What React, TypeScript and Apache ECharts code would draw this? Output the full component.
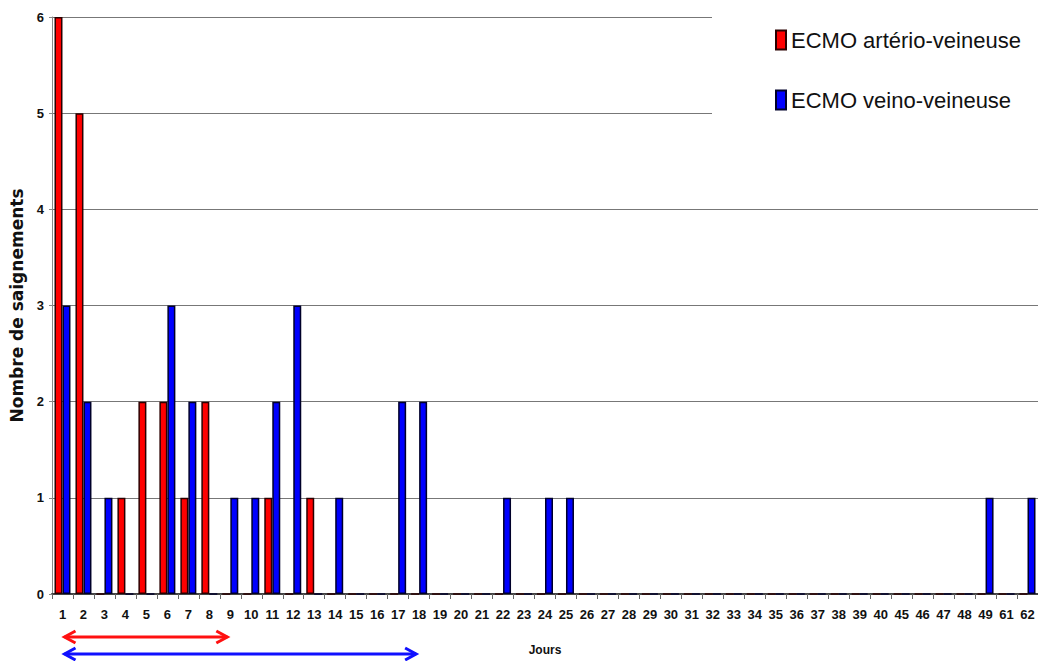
import React, { useEffect, useRef } from "react";
import * as echarts from "echarts";

const days = [
  "1","2","3","4","5","6","7","8","9","10","11","12","13","14","15","16","17","18","19","20",
  "21","22","23","24","25","26","27","28","29","30","31","32","33","34","35","36","37","38","39","40",
  "45","46","47","48","49","61","62",
];
const arterioVeineuse = [
  6,5,0,1,2,2,1,2,0,0,1,0,1,0,0,0,0,0,0,0,
  0,0,0,0,0,0,0,0,0,0,0,0,0,0,0,0,0,0,0,0,
  0,0,0,0,0,0,0,
];
const veinoVeineuse = [
  3,2,1,0,0,3,2,0,1,1,2,3,0,1,0,0,2,2,0,0,
  0,1,0,1,1,0,0,0,0,0,0,0,0,0,0,0,0,0,0,0,
  0,0,0,0,1,0,1,
];
const seriesNames = ["ECMO artério-veineuse", "ECMO veino-veineuse"];
const yTicks = [0, 1, 2, 3, 4, 5, 6];
const redArrowRange = ["1", "9"];
const blueArrowRange = ["1", "18"];

const narrow = "'Liberation Sans Narrow', 'Arial Narrow', 'Liberation Sans', sans-serif";

export default function App() {
  const ref = useRef<HTMLDivElement>(null);
  useEffect(() => {
    if (!ref.current) return;
    const chart = echarts.init(ref.current, null, { renderer: "svg" });
    chart.setOption({
      animation: false,
      backgroundColor: "#ffffff",
      grid: { left: 52, right: 0, top: 17, bottom: 67, containLabel: false, outerBoundsMode: "none" },
      legend: {
        orient: "vertical",
        left: 712,
        top: 0,
        padding: [28, 30, 20, 63],
        backgroundColor: "#ffffff",
        icon: "rect",
        itemWidth: 10,
        itemHeight: 19,
        itemGap: 36,
        data: seriesNames,
        textStyle: { fontFamily: narrow, fontSize: 22, color: "#111", lineHeight: 24 },
      },
      xAxis: {
        type: "category",
        data: days,
        name: "Jours",
        nameLocation: "middle",
        nameGap: 50,
        nameTextStyle: { fontFamily: "'Liberation Sans', Arial, sans-serif", fontWeight: "bold", fontSize: 12, color: "#111" },
        axisLine: { lineStyle: { color: "#444", width: 2 } },
        axisTick: { show: true, length: 5, lineStyle: { color: "#666" } },
        axisLabel: { interval: 0, margin: 14, fontFamily: narrow, fontWeight: "bold", fontSize: 13, color: "#111" },
        splitLine: { show: false },
      },
      yAxis: {
        type: "value",
        min: yTicks[0],
        max: yTicks[yTicks.length - 1],
        interval: 1,
        name: "Nombre de saignements",
        nameLocation: "middle",
        nameGap: 27,
        nameRotate: 90,
        nameTextStyle: { fontFamily: "'DejaVu Sans', Verdana, sans-serif", fontWeight: "bold", fontSize: 17, color: "#111" },
        axisLine: { show: true, lineStyle: { color: "#888", width: 1 } },
        axisTick: { show: true, length: 3, lineStyle: { color: "#888" } },
        axisLabel: { margin: 8, fontFamily: "'Liberation Sans', Arial, sans-serif", fontWeight: "bold", fontSize: 13, color: "#111" },
        splitLine: { show: true, lineStyle: { color: "#777", width: 1 } },
      },
      series: [
        {
          name: seriesNames[0],
          type: "bar",
          data: arterioVeineuse,
          barWidth: 8,
          barGap: "0%",
          itemStyle: { color: "#ff0000", borderColor: "#2a0000", borderWidth: 1.5 },
        },
        {
          name: seriesNames[1],
          type: "bar",
          data: veinoVeineuse,
          barWidth: 8,
          barGap: "0%",
          itemStyle: { color: "#0000ff", borderColor: "#00002a", borderWidth: 1.5 },
        },
      ],
    });

    const px = (c: string) => chart.convertToPixel({ xAxisIndex: 0 }, c) as number;
    const arrow = (from: string, to: string, y: number, color: string) => {
      const x0 = px(from) + 2;
      const x1 = px(to) - 3;
      const style = { stroke: color, lineWidth: 3, fill: "none" };
      return [
        { type: "line", shape: { x1: x0, y1: y, x2: x1, y2: y }, style },
        { type: "polyline", shape: { points: [[x0 + 11, y - 6], [x0, y], [x0 + 11, y + 6]] }, style },
        { type: "polyline", shape: { points: [[x1 - 11, y - 6], [x1, y], [x1 - 11, y + 6]] }, style },
      ];
    };
    chart.setOption({
      graphic: [
        ...arrow(redArrowRange[0], redArrowRange[1], 637, "#ff1010"),
        ...arrow(blueArrowRange[0], blueArrowRange[1], 654, "#1010ff"),
      ],
    });
    return () => chart.dispose();
  }, []);
  return (
    <div
      ref={ref}
      style={{ position: "fixed", left: 0, top: 0, width: 1038, height: 661 }}
    />
  );
}
